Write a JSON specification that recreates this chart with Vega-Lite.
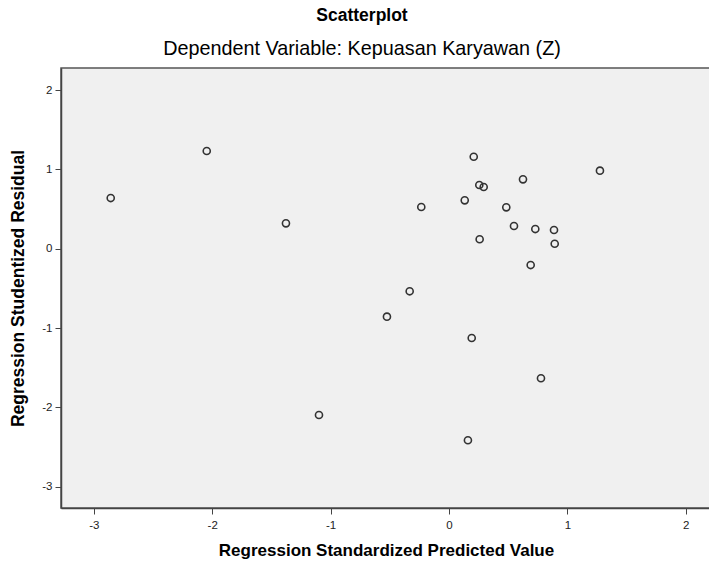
{
  "$schema": "https://vega.github.io/schema/vega-lite/v6.json",
  "width": 650,
  "height": 440,
  "autosize": {"type": "none"},
  "padding": {"left": 61, "top": 68, "right": 0, "bottom": 57},
  "background": "white",
  "title": {
    "text": "Scatterplot",
    "subtitle": "Dependent Variable: Kepuasan Karyawan (Z)",
    "font": "Liberation Sans",
    "subtitleFont": "Liberation Sans",
    "fontSize": 17.5,
    "subtitleFontSize": 19.8,
    "fontWeight": "bold",
    "subtitleFontWeight": "normal",
    "color": "#000000",
    "subtitleColor": "#000000",
    "anchor": "middle",
    "frame": "group",
    "dx": -24,
    "offset": 9,
    "subtitlePadding": 15
  },
  "data": {
    "values": [
      {"pred": -2.857, "resid": 0.639},
      {"pred": -2.046, "resid": 1.232},
      {"pred": -1.377, "resid": 0.320},
      {"pred": -1.098, "resid": -2.097},
      {"pred": -0.524, "resid": -0.857},
      {"pred": -0.332, "resid": -0.537},
      {"pred": -0.234, "resid": 0.526},
      {"pred": 0.133, "resid": 0.610},
      {"pred": 0.209, "resid": 1.160},
      {"pred": 0.256, "resid": 0.803},
      {"pred": 0.293, "resid": 0.778},
      {"pred": 0.259, "resid": 0.119},
      {"pred": 0.192, "resid": -1.126},
      {"pred": 0.160, "resid": -2.416},
      {"pred": 0.484, "resid": 0.522},
      {"pred": 0.549, "resid": 0.286},
      {"pred": 0.625, "resid": 0.875},
      {"pred": 0.690, "resid": -0.206},
      {"pred": 0.729, "resid": 0.248},
      {"pred": 0.887, "resid": 0.236},
      {"pred": 0.893, "resid": 0.063},
      {"pred": 0.777, "resid": -1.634},
      {"pred": 1.275, "resid": 0.984}
    ]
  },
  "mark": {
    "type": "point",
    "shape": "circle",
    "filled": false,
    "size": 50,
    "stroke": "#333333",
    "strokeWidth": 1.6,
    "opacity": 1
  },
  "encoding": {
    "x": {
      "field": "pred",
      "type": "quantitative",
      "scale": {"domain": [-3.277, 2.213], "nice": false, "zero": false},
      "axis": {
        "title": "Regression Standardized Predicted Value",
        "values": [-3, -2, -1, 0, 1, 2],
        "labelExpr": "'' + datum.value",
        "grid": false,
        "titleFontSize": 17,
        "titlePadding": 12,
        "labelPadding": 5
      }
    },
    "y": {
      "field": "resid",
      "type": "quantitative",
      "scale": {"domain": [-3.27, 2.279], "nice": false, "zero": false},
      "axis": {
        "title": "Regression Studentized Residual",
        "values": [-3, -2, -1, 0, 1, 2],
        "labelExpr": "'' + datum.value",
        "grid": false,
        "titleFontSize": 17.5,
        "titlePadding": 14,
        "labelPadding": 3
      }
    }
  },
  "config": {
    "view": {"fill": "#F0F0F0", "stroke": "#555555", "strokeWidth": 1.5},
    "axis": {
      "domainColor": "#444444",
      "domainWidth": 1.5,
      "tickColor": "#444444",
      "tickSize": 6,
      "tickWidth": 1,
      "labelFont": "Liberation Sans",
      "labelFontSize": 11.5,
      "labelColor": "#222222",
      "titleFont": "Liberation Sans",
      "titleFontWeight": "bold",
      "titleColor": "#000000"
    }
  }
}
